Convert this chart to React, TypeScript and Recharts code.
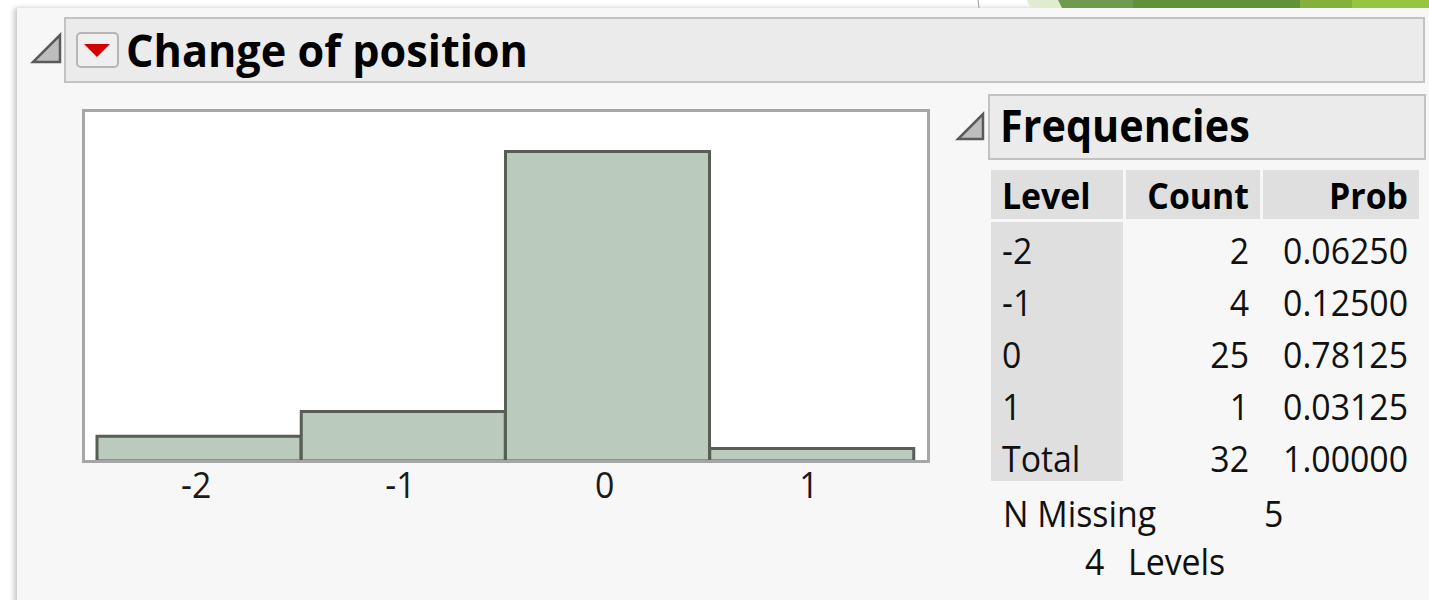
import React from 'react';
import { BarChart, Bar, XAxis, YAxis } from 'recharts';

const levels = ['-2', '-1', '0', '1'];
const counts = [2, 4, 25, 1];
const probs = ['0.06250', '0.12500', '0.78125', '0.03125'];
const totalCount = '32';
const totalProb = '1.00000';
const nMissing = '5';
const nLevels = '4';

const chartData = levels.map((level, i) => ({ level, count: counts[i] }));

const FONT = '"Open Sans", "Noto Sans", sans-serif';

const T: React.FC<{ x: number; y: number; size: number; bold?: boolean; anchor?: 'start' | 'middle' | 'end'; fill?: string; sx?: number; children: React.ReactNode }> = ({ x, y, size, bold, anchor = 'start', fill = '#111', sx = 0.94, children }) => (
  <text
    transform={`translate(${x} ${y}) scale(${sx} 1)`}
    fontSize={size}
    fontWeight={bold ? 700 : 400}
    textAnchor={anchor}
    fontFamily={FONT}
    fill={fill}
  >
    {children}
  </text>
);

const XTick = (props: any) => {
  const { x, y, payload } = props;
  return <T x={x - 3} y={y + 37} size={36} anchor="middle" fill="#1a1a1a">{payload.value}</T>;
};

const Disclosure: React.FC<{ x: number; y: number; s: number }> = ({ x, y, s }) => (
  <polygon points={`${x},${y + s} ${x + s},${y + s} ${x + s},${y}`} fill="#bdbdbd" stroke="#5a5a5a" strokeWidth={2.5} strokeLinejoin="miter" />
);

const App: React.FC = () => {
  const rowY = (i: number) => 264 + 52 * i;
  return (
    <div style={{ position: 'absolute', left: 0, top: 0, width: 1429, height: 600, overflow: 'hidden', background: '#fff' }}>
      {/* panel background with left shadow */}
      <div style={{ position: 'absolute', left: 17, top: 8, width: 1420, height: 600, background: '#f7f7f7', boxShadow: '-3px 0 5px rgba(0,0,0,0.22)' }} />

      <svg width={1429} height={600} style={{ position: 'absolute', left: 0, top: 0 }}>
        {/* top strip */}
        <line x1={978} y1={0} x2={979} y2={8} stroke="#9a9a9a" strokeWidth={1} />
        <polygon points="1027,0 1058,0 1062,8 1030,8" fill="#e1ebd0" />
        <polygon points="1058,0 1135,0 1133,8 1062,8" fill="#6e9b50" />
        <rect x={1133} y={0} width={168} height={8} fill="#62913b" />
        <rect x={1300} y={0} width={53} height={8} fill="#85b03a" />
        <rect x={1352} y={0} width={80} height={8} fill="#97c53f" />

        {/* main header */}
        <Disclosure x={33} y={35} s={27} />
        <rect x={65} y={18} width={1359} height={64} fill="#ebebeb" stroke="#c2c2c2" strokeWidth={2} />
        <rect x={77} y={33} width={41} height={34} rx={4} fill="#efefef" stroke="#b5b5b5" strokeWidth={2} />
        <polygon points="84,44 110,44 97,57" fill="#d40000" />
        <T x={126} y={67} size={45} bold fill="#000" sx={0.96}>Change of position</T>

        {/* frequencies header */}
        <Disclosure x={958} y={114} s={25} />
        <rect x={989} y={95} width={436} height={64} fill="#ebebeb" stroke="#c2c2c2" strokeWidth={2} />
        <T x={1000} y={142} size={44} bold fill="#000">Frequencies</T>

        {/* table header cells */}
        <rect x={991} y={170} width={132} height={49} fill="#dfdfdf" />
        <rect x={1126} y={170} width={134} height={49} fill="#dfdfdf" />
        <rect x={1263} y={170} width={156} height={49} fill="#dfdfdf" />
        <rect x={991} y={222} width={132} height={259} fill="#dfdfdf" />
        <T x={1002} y={209} size={36} bold fill="#000">Level</T>
        <T x={1249} y={209} size={36} bold anchor="end" fill="#000">Count</T>
        <T x={1408} y={209} size={36} bold anchor="end" fill="#000">Prob</T>

        {levels.map((lv, i) => (
          <g key={lv}>
            <T x={1002} y={rowY(i)} size={36}>{lv}</T>
            <T x={1249} y={rowY(i)} size={36} anchor="end">{counts[i]}</T>
            <T x={1408} y={rowY(i)} size={36} anchor="end">{probs[i]}</T>
          </g>
        ))}
        <T x={1002} y={rowY(4)} size={36}>Total</T>
        <T x={1249} y={rowY(4)} size={36} anchor="end">{totalCount}</T>
        <T x={1408} y={rowY(4)} size={36} anchor="end">{totalProb}</T>

        <T x={1003} y={527} size={36}>N Missing</T>
        <T x={1264} y={527} size={36}>{nMissing}</T>
        <T x={1085} y={575} size={36}>{nLevels}</T>
        <T x={1128} y={575} size={36}>Levels</T>
      </svg>

      {/* plot frame background */}
      <div style={{ position: 'absolute', left: 82, top: 109, width: 848, height: 354, background: '#fff' }} />
      <div style={{ position: 'absolute', left: 82, top: 109 }}>
        <BarChart width={848} height={420} data={chartData} margin={{ top: 3, right: 16, left: 15, bottom: 8 }} barCategoryGap={0} barGap={0}>
          <XAxis dataKey="level" height={60} axisLine={false} tickLine={false} tickSize={0} tickMargin={0} interval={0} tick={<XTick />} />
          <YAxis hide domain={[0, 28.2]} />
          <Bar dataKey="count" fill="#bacbbd" stroke="#575e57" strokeWidth={3} isAnimationActive={false} />
        </BarChart>
      </div>
      <div style={{ position: 'absolute', left: 82, top: 109, width: 848, height: 354, border: '3px solid #a6a6a6', boxSizing: 'border-box', pointerEvents: 'none' }} />
    </div>
  );
};

export default App;
